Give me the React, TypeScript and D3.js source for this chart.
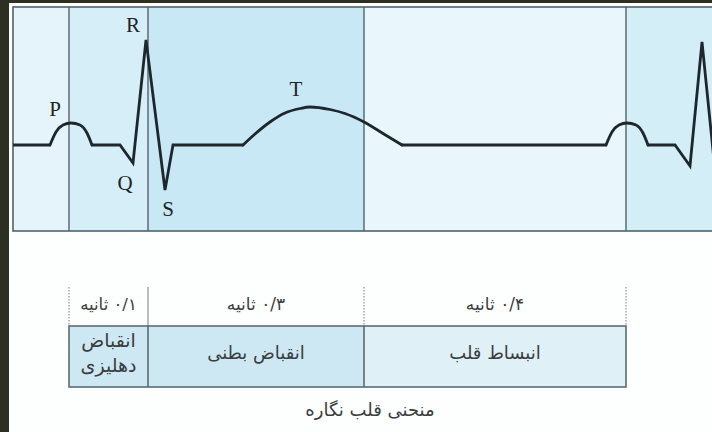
import * as d3 from "d3";

// time units (arbitrary) and amplitude in mV
type Pt = [number, number];

const flatStart: Pt[] = [[0, 0], [46, 0]];
const pWave1: Pt[] = [[46.25, 0], [53.75, 0.13], [62.5, 0.2], [72.5, 0.22], [83.75, 0.2], [92.5, 0.12], [98.75, 0]];
const qrs1: Pt[] = [[98.75, 0], [133.75, 0], [150, -0.18], [166.25, 1.05], [190, -0.45], [200, 0], [287.5, 0]];
const tWave: Pt[] = [[287.5, 0], [302.5, 0.11], [321.25, 0.23], [340, 0.32], [358.75, 0.365], [371.25, 0.38], [396.25, 0.355], [415, 0.315], [438.75, 0.23], [462.5, 0.115], [486.25, 0]];
const diastole: Pt[] = [[486.25, 0], [741.25, 0]];
const pWave2: Pt[] = [[741.25, 0], [748.75, 0.13], [757.5, 0.2], [767.5, 0.22], [778.75, 0.2], [787.5, 0.12], [793.75, 0]];
const qrs2: Pt[] = [[793.75, 0], [827.5, 0], [846.25, -0.21], [861.25, 1.03], [880, -0.45]];

const waveLabels = [
  { text: "P", at: [72.5, 0.22], dx: -16, dy: -12 },
  { text: "R", at: [166.25, 1.05], dx: -13, dy: -13 },
  { text: "Q", at: [150, -0.18], dx: -8, dy: 22 },
  { text: "S", at: [190, -0.45], dx: 3, dy: 21 },
  { text: "T", at: [371.25, 0.38], dx: -14, dy: -16 },
];

const phaseBounds = [0, 70, 168.75, 438.75, 766.25, 880];
const phaseFills = ["#e5f4fa", "#d5eef8", "#c9e8f5", "#e9f6fb", "#d4eef8"];

const durations = ["۰/۱ ثانیه", "۰/۳ ثانیه", "۰/۴ ثانیه"];
const phaseNames = [["انقباض", "دهلیزی"], ["انقباض بطنی"], ["انبساط قلب"]];
const cellFills = ["#cde8f3", "#cde8f3", "#dff0f7"];
const caption = "منحنی قلب نگاره";

const W = 712;
const H = 432;
const xScale = d3.scaleLinear().domain([0, 880]).range([13, 717]);
const yScale = d3.scaleLinear().domain([-0.9, 1.4]).range([235, 5]);

const straight = d3.line<Pt>().x(d => xScale(d[0])).y(d => yScale(d[1]));
const smooth = d3.line<Pt>().x(d => xScale(d[0])).y(d => yScale(d[1])).curve(d3.curveMonotoneX);

const segments: { pts: Pt[]; curved: boolean }[] = [
  { pts: flatStart, curved: false },
  { pts: pWave1, curved: true },
  { pts: qrs1, curved: false },
  { pts: tWave, curved: true },
  { pts: diastole, curved: false },
  { pts: pWave2, curved: true },
  { pts: qrs2, curved: false },
];

const panelTop = yScale(1.38);
const panelBottom = yScale(-0.86);
const lineColor = "#52636a";
const textColor = "#3a3d3e";
const arabicFont = "'DejaVu Sans', sans-serif";

const tableTop = 326;
const tableBottom = 387;
const headTop = 287;

export default function App() {
  const cols = phaseBounds.slice(1, 5); // table spans atrial .. next atrial
  return (
    <svg width={W} height={H} style={{ position: "absolute", left: 0, top: 0, background: "#fdfefe" }}>
      <defs>
        <clipPath id="panel-clip">
          <rect x={xScale(0)} y={panelTop} width={W - xScale(0)} height={panelBottom - panelTop} />
        </clipPath>
      </defs>
      {/* dark frame edges */}
      <rect x={0} y={0} width={W} height={3} fill="#2d2f22" />
      <rect x={0} y={0} width={9} height={H} fill="#2d2f22" />

      {/* ECG panel background by phase */}
      {phaseFills.map((f, i) => (
        <rect key={i} x={xScale(phaseBounds[i])} y={panelTop}
          width={xScale(phaseBounds[i + 1]) - xScale(phaseBounds[i])}
          height={panelBottom - panelTop} fill={f} />
      ))}
      {phaseBounds.slice(1, 5).map((b, i) => (
        <line key={i} x1={xScale(b)} x2={xScale(b)} y1={panelTop} y2={panelBottom}
          stroke={lineColor} strokeWidth={1.4} />
      ))}
      <rect x={xScale(0)} y={panelTop} width={xScale(880) - xScale(0)} height={panelBottom - panelTop}
        fill="none" stroke={lineColor} strokeWidth={1.6} />

      {/* waveform */}
      <g clipPath="url(#panel-clip)">
        {segments.map((s, i) => (
          <path key={i} d={(s.curved ? smooth : straight)(s.pts) || ""} fill="none"
            stroke="#1d272c" strokeWidth={2.8} strokeLinejoin="miter" strokeLinecap="round" />
        ))}
      </g>
      {waveLabels.map(l => (
        <text key={l.text} x={xScale(l.at[0]) + l.dx} y={yScale(l.at[1]) + l.dy}
          textAnchor="middle" dominantBaseline="middle"
          fontFamily="'Liberation Serif', 'DejaVu Serif', serif" fontSize={21} fill="#1e2326">
          {l.text}
        </text>
      ))}

      {/* phase table */}
      {cols.slice(0, 3).map((b, i) => {
        const x0 = xScale(b);
        const x1 = xScale(cols[i + 1]);
        return (
          <g key={i}>
            <rect x={x0} y={tableTop} width={x1 - x0} height={tableBottom - tableTop} fill={cellFills[i]} />
            <text x={(x0 + x1) / 2} y={305} textAnchor="middle" dominantBaseline="middle" direction="rtl"
              fontFamily={arabicFont} fontSize={i === 0 ? 16.5 : 17} fill={textColor}>
              {durations[i]}
            </text>
            {phaseNames[i].map((n, j) => (
              <text key={j} x={(x0 + x1) / 2}
                y={phaseNames[i].length > 1 ? 341 + j * 25 : 354}
                textAnchor="middle" dominantBaseline="middle" direction="rtl"
                fontFamily={arabicFont} fontSize={phaseNames[i].length > 1 ? 19 : 18} fill={textColor}>
                {n}
              </text>
            ))}
          </g>
        );
      })}
      {cols.map((b, i) => (
        <line key={i} x1={xScale(b)} x2={xScale(b)} y1={headTop} y2={tableTop}
          stroke="#8a9194" strokeWidth={1.2} strokeDasharray={i === 1 ? undefined : "1.5 1.5"} />
      ))}
      <rect x={xScale(cols[0])} y={tableTop} width={xScale(cols[3]) - xScale(cols[0])}
        height={tableBottom - tableTop} fill="none" stroke={lineColor} strokeWidth={1.5} />
      {cols.slice(1, 3).map((b, i) => (
        <line key={i} x1={xScale(b)} x2={xScale(b)} y1={tableTop} y2={tableBottom}
          stroke={lineColor} strokeWidth={1.5} />
      ))}

      <text x={370} y={411} textAnchor="middle" dominantBaseline="middle" direction="rtl"
        fontFamily={arabicFont} fontSize={18} fill={textColor}>
        {caption}
      </text>
    </svg>
  );
}
